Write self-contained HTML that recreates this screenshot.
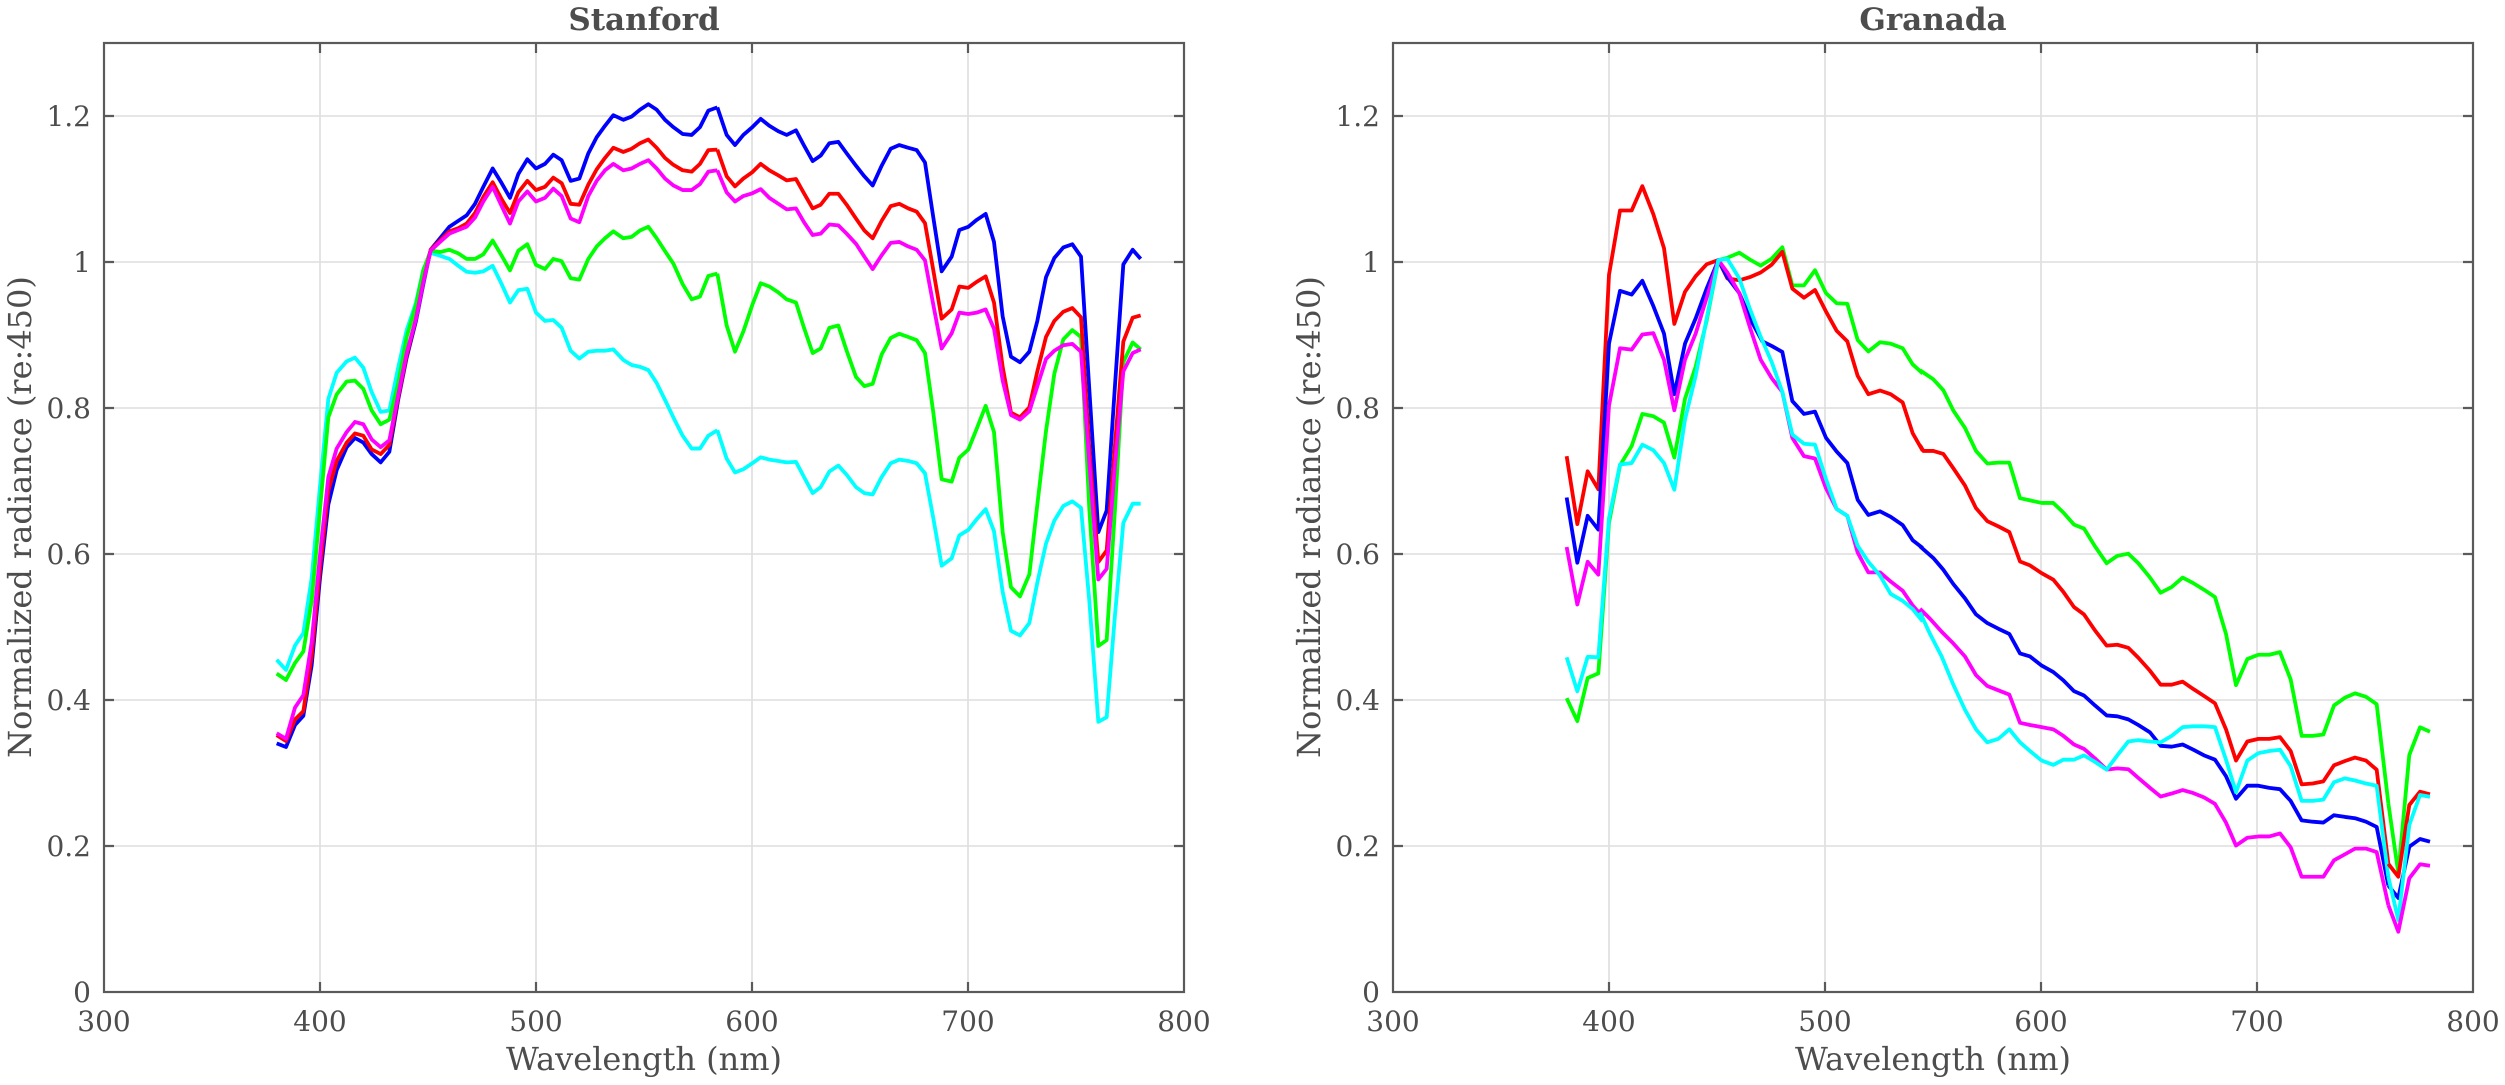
<!DOCTYPE html>
<html><head><meta charset="utf-8"><style>
html,body{margin:0;padding:0;background:#fff;}
svg{display:block;}
text{font-family:"DejaVu Serif","Liberation Serif",serif;fill:#4d4d4d;}
.t{font-size:28px;}
.ti{font-size:31px;font-weight:bold;}
.lb{font-size:32px;}
.g{stroke:#dedede;stroke-width:1.6;}
.ax{stroke:#5a5a5a;stroke-width:2.2;fill:none;}
polyline{fill:none;stroke-width:3.8;stroke-linejoin:round;vector-effect:non-scaling-stroke;}
.B{stroke:#0000ff}.R{stroke:#ff0000}.M{stroke:#ff00ff}.G{stroke:#00ff00}.C{stroke:#00ffff}
</style></head><body>
<svg width="2505" height="1085" viewBox="0 0 2505 1085" xmlns="http://www.w3.org/2000/svg">
<g class="g">
<line x1="320" y1="43" x2="320" y2="992"/><line x1="536" y1="43" x2="536" y2="992"/><line x1="752" y1="43" x2="752" y2="992"/><line x1="968" y1="43" x2="968" y2="992"/>
<line x1="104" y1="846" x2="1184" y2="846"/><line x1="104" y1="700" x2="1184" y2="700"/><line x1="104" y1="554" x2="1184" y2="554"/><line x1="104" y1="408" x2="1184" y2="408"/><line x1="104" y1="262" x2="1184" y2="262"/><line x1="104" y1="116" x2="1184" y2="116"/>
<line x1="1609" y1="43" x2="1609" y2="992"/><line x1="1825" y1="43" x2="1825" y2="992"/><line x1="2041" y1="43" x2="2041" y2="992"/><line x1="2257" y1="43" x2="2257" y2="992"/>
<line x1="1393" y1="846" x2="2473" y2="846"/><line x1="1393" y1="700" x2="2473" y2="700"/><line x1="1393" y1="554" x2="2473" y2="554"/><line x1="1393" y1="408" x2="2473" y2="408"/><line x1="1393" y1="262" x2="2473" y2="262"/><line x1="1393" y1="116" x2="2473" y2="116"/>
</g>

<g transform="translate(260,50) scale(0.33333,0.45918)">
<polyline class="C" points="50,1328 78,1350 105,1297 130,1270 155,1150 180,950 205,760 230,703 260,678 285,670 310,692 335,745 362,788 388,785 415,690 440,610 468,550 490,478 512,442 540,448 568,455 595,470 620,483 645,485 670,482 698,470 725,510 750,550 775,523 802,520 828,572 855,590 880,588 905,605 932,655 958,672 985,657 1010,655 1035,655 1060,652 1090,675 1115,686 1140,690 1165,697 1190,725 1215,762 1240,800 1268,840 1295,868 1320,868 1345,840 1372,828"/>
<polyline class="G" points="50,1358 78,1372 105,1335 130,1310 155,1200 180,1000 205,800 230,750 260,722 285,720 310,738 335,785 362,815 388,805 415,725 440,625 468,555 490,480 512,437 540,440 568,435 595,443 620,455 645,455 670,445 698,415 725,448 750,480 775,437 802,423 828,468 855,477 880,455 905,460 932,497 958,500 985,455 1010,428 1035,410 1060,395 1090,410 1115,407 1140,393 1165,385 1190,410 1215,438 1240,465 1268,510 1295,543 1320,537 1345,492 1372,487"/>
<polyline class="B" points="50,1510 78,1518 105,1470 130,1450 155,1340 180,1150 205,990 230,915 260,865 285,845 310,855 335,880 362,898 388,875 415,760 440,670 468,590 490,510 512,435 540,410 568,385 595,372 620,360 645,335 670,298 698,258 725,290 750,322 775,270 802,238 828,258 855,248 880,228 905,240 932,285 958,280 985,225 1010,190 1035,165 1060,142 1090,152 1115,145 1140,130 1165,118 1190,130 1215,152 1240,168 1268,183 1295,185 1320,168 1345,132 1372,125"/>
<polyline class="R" points="50,1492 78,1505 105,1458 130,1440 155,1320 180,1130 205,960 230,895 260,855 285,835 310,840 335,870 362,880 388,860 415,755 440,665 468,585 490,505 512,435 540,415 568,395 595,388 620,378 645,355 670,320 698,288 725,325 750,355 775,310 802,285 828,305 855,298 880,278 905,290 932,335 958,337 985,293 1010,260 1035,235 1060,213 1090,222 1115,215 1140,203 1165,195 1190,213 1215,235 1240,250 1268,262 1295,265 1320,248 1345,218 1372,217"/>
<polyline class="M" points="50,1488 78,1500 105,1432 130,1405 155,1290 180,1100 205,930 230,868 260,832 285,810 310,815 335,848 362,865 388,850 415,750 440,660 468,585 490,505 512,437 540,418 568,400 595,392 620,385 645,365 670,330 698,298 725,340 750,378 775,330 802,308 828,330 855,322 880,302 905,318 932,367 958,375 985,318 1010,285 1035,262 1060,248 1090,262 1115,258 1140,248 1165,240 1190,258 1215,280 1240,295 1268,305 1295,305 1320,292 1345,265 1372,262"/>
</g>
<g transform="translate(720,50) scale(0.33333,0.45918)">
<polyline class="C" points="-8,828 20,890 45,920 70,913 97,900 122,887 148,892 175,895 200,898 228,897 252,930 278,965 302,952 328,918 355,905 380,925 408,952 433,965 458,968 485,930 512,900 538,892 565,895 590,900 615,922 640,1020 665,1123 695,1107 718,1057 745,1045 770,1022 797,1000 822,1048 848,1180 873,1265 900,1275 928,1248 952,1160 978,1075 1003,1025 1030,993 1057,983 1083,997 1108,1200 1135,1463 1160,1453 1185,1230 1210,1030 1238,988 1262,988"/>
<polyline class="G" points="-8,487 20,600 45,657 70,613 97,555 122,508 148,515 175,528 200,543 228,550 252,605 278,660 302,650 328,605 355,600 380,655 408,712 433,732 458,727 485,663 512,627 538,618 565,625 590,632 615,660 640,790 665,935 695,940 718,888 745,870 770,825 797,775 822,832 848,1050 873,1170 900,1190 928,1142 952,990 978,830 1003,705 1030,630 1057,610 1083,625 1108,1000 1135,1298 1160,1285 1185,1000 1210,680 1238,637 1262,652"/>
<polyline class="B" points="-8,125 20,185 45,207 70,185 97,168 122,150 148,165 175,177 200,185 228,175 252,208 278,242 302,230 328,203 355,200 380,225 408,252 433,275 458,295 485,252 512,215 538,207 565,213 590,218 615,245 640,365 665,482 695,450 718,392 745,385 770,370 797,357 822,418 848,580 873,668 900,680 928,657 952,590 978,495 1003,453 1030,430 1057,423 1083,450 1108,740 1135,1050 1160,1003 1185,730 1210,467 1238,435 1262,455"/>
<polyline class="R" points="-8,217 20,275 45,297 70,280 97,266 122,248 148,262 175,273 200,284 228,281 252,312 278,345 302,337 328,313 355,313 380,337 408,367 433,393 458,410 485,372 512,340 538,335 565,345 590,352 615,377 640,480 665,585 695,565 718,515 745,518 770,505 797,493 822,550 848,690 873,790 900,800 928,778 952,700 978,625 1003,590 1030,570 1057,562 1083,582 1108,870 1135,1115 1160,1090 1185,860 1210,635 1238,583 1262,578"/>
<polyline class="M" points="-8,262 20,310 45,330 70,318 97,312 122,303 148,322 175,335 200,347 228,345 252,375 278,403 302,400 328,380 355,382 380,400 408,422 433,450 458,477 485,447 512,420 538,418 565,428 590,435 615,458 640,555 665,650 695,617 718,572 745,575 770,572 797,565 822,607 848,720 873,795 900,805 928,787 952,732 978,673 1003,655 1030,643 1057,640 1083,657 1108,900 1135,1153 1160,1130 1185,905 1210,700 1238,660 1262,652"/>
</g>

<g transform="translate(1490,160) scale(0.33333,0.45918)">
<polyline class="G" points="230,1172 262,1222 293,1128 325,1118 357,790 390,665 425,623 457,553 490,558 522,572 553,648 585,520 617,450 650,350 685,218 712,213 748,202 780,217 812,230 845,215 877,190 907,273 942,273 975,240 1008,290 1040,312 1072,313 1103,392 1135,417 1170,397 1202,400 1238,410 1268,445 1298,465"/>
<polyline class="R" points="230,645 262,793 293,678 325,717 357,250 390,110 425,110 457,57 490,118 522,192 553,357 585,287 617,253 650,227 685,218 712,258 748,262 780,255 812,245 845,228 877,200 907,280 942,300 975,283 1008,330 1040,372 1072,395 1103,470 1135,510 1170,502 1202,510 1238,528 1268,595 1298,633"/>
<polyline class="B" points="230,735 262,877 293,775 325,805 357,400 390,285 425,293 457,263 490,318 522,378 553,510 585,400 617,345 650,280 685,218 712,255 748,290 780,345 817,395 845,405 877,418 907,525 942,553 975,548 1008,605 1040,635 1072,660 1103,740 1135,773 1170,765 1202,777 1238,795 1268,828 1298,845"/>
<polyline class="M" points="230,843 262,968 293,875 325,903 357,535 390,410 425,413 457,380 490,377 522,435 553,545 585,435 617,378 650,300 685,218 712,245 748,290 780,365 812,435 845,475 877,505 907,605 942,645 975,650 1008,715 1040,760 1072,775 1103,855 1135,898 1170,898 1202,918 1238,938 1268,970 1298,995"/>
<polyline class="C" points="230,1083 262,1157 293,1082 325,1083 357,780 390,663 425,660 457,620 490,632 522,660 553,718 585,565 617,470 650,345 685,218 712,215 748,258 780,325 812,385 845,440 877,505 907,598 942,618 975,620 1008,695 1040,760 1072,775 1103,840 1135,875 1170,905 1202,945 1238,960 1268,978 1298,1005"/>
</g>
<g transform="translate(1920,300) scale(0.33333,0.43367)">
<polyline class="G" points="0,162 40,183 70,208 100,255 135,295 168,348 202,377 235,375 268,375 300,457 330,462 365,468 400,468 430,490 462,518 492,527 525,568 560,607 592,590 625,585 655,607 690,640 722,675 755,662 788,640 820,653 852,668 885,685 918,770 948,888 982,828 1015,818 1048,818 1080,812 1112,875 1145,1005 1178,1005 1210,1002 1242,935 1275,917 1305,907 1338,915 1370,932 1405,1160"/>
<polyline class="R" points="0,335 10,348 40,348 70,355 100,388 135,428 168,480 202,510 235,522 268,535 300,603 330,612 365,630 400,645 430,673 462,708 492,725 525,762 560,797 592,795 625,802 655,825 690,855 722,887 755,887 788,880 820,897 852,913 885,930 918,990 948,1062 982,1018 1015,1012 1048,1012 1080,1008 1112,1040 1145,1117 1178,1115 1210,1110 1242,1073 1275,1063 1305,1055 1338,1062 1370,1083 1405,1300"/>
<polyline class="B" points="0,568 40,595 70,622 100,655 135,688 168,725 202,745 235,758 268,770 300,815 330,822 365,843 400,858 430,877 462,902 492,912 525,935 560,958 592,960 625,967 655,980 690,997 722,1028 755,1030 788,1025 820,1037 852,1050 885,1060 918,1098 948,1150 982,1120 1015,1120 1048,1125 1080,1128 1112,1155 1145,1200 1178,1203 1210,1205 1242,1188 1275,1192 1305,1195 1338,1203 1370,1215 1405,1350"/>
<polyline class="M" points="0,712 30,735 65,765 100,792 135,822 168,865 202,890 235,900 268,910 300,975 330,980 365,985 400,990 430,1005 462,1025 492,1035 525,1057 560,1083 592,1080 625,1082 655,1102 690,1125 722,1145 755,1138 788,1130 820,1137 852,1147 885,1162 918,1205 948,1258 982,1240 1015,1237 1048,1237 1080,1230 1112,1262 1145,1330 1178,1330 1210,1330 1242,1292 1275,1278 1305,1265 1338,1265 1370,1273 1405,1395"/>
<polyline class="C" points="0,720 30,770 65,822 100,887 135,945 168,990 202,1020 235,1012 268,990 300,1020 330,1040 365,1062 400,1072 430,1060 462,1060 492,1050 525,1065 560,1083 592,1050 625,1018 655,1015 690,1018 722,1020 755,1005 788,985 820,983 852,983 885,985 918,1060 948,1135 982,1062 1015,1045 1048,1040 1080,1037 1112,1075 1145,1155 1178,1155 1210,1152 1242,1112 1275,1103 1305,1108 1338,1115 1370,1120 1405,1330"/>
</g>
<g>
<polyline class="G" points="2388.3,803.1 2398.3,873 2409.3,755 2420,727.3 2430,731.7"/>
<polyline class="R" points="2388.3,863.8 2398.3,876.7 2409.3,805 2420,791.7 2430,794.3"/>
<polyline class="B" points="2388.3,885.5 2398.3,898 2409.3,846.7 2420,839 2430,841.7"/>
<polyline class="C" points="2388.3,876.8 2398.3,920 2409.3,825 2420,795 2430,796.7"/>
<polyline class="M" points="2388.3,905 2398.3,931.7 2409.3,878.3 2420,864.3 2430,865.7"/>
</g>

<rect class="ax" x="104" y="43" width="1080" height="949"/>
<rect class="ax" x="1393" y="43" width="1080" height="949"/>
<g class="ax">
<path d="M320,992v-10M536,992v-10M752,992v-10M968,992v-10M320,43v10M536,43v10M752,43v10M968,43v10
M104,846h10M104,700h10M104,554h10M104,408h10M104,262h10M104,116h10M1184,846h-10M1184,700h-10M1184,554h-10M1184,408h-10M1184,262h-10M1184,116h-10"/>
<path d="M1609,992v-10M1825,992v-10M2041,992v-10M2257,992v-10M1609,43v10M1825,43v10M2041,43v10M2257,43v10
M1393,846h10M1393,700h10M1393,554h10M1393,408h10M1393,262h10M1393,116h10M2473,846h-10M2473,700h-10M2473,554h-10M2473,408h-10M2473,262h-10M2473,116h-10"/>
</g>

<g class="t" text-anchor="middle">
<text x="104" y="1031">300</text><text x="320" y="1031">400</text><text x="536" y="1031">500</text><text x="752" y="1031">600</text><text x="968" y="1031">700</text><text x="1184" y="1031">800</text>
<text x="1393" y="1031">300</text><text x="1609" y="1031">400</text><text x="1825" y="1031">500</text><text x="2041" y="1031">600</text><text x="2257" y="1031">700</text><text x="2473" y="1031">800</text>
</g>
<g class="t" text-anchor="end">
<text x="91" y="1002">0</text><text x="91" y="856">0.2</text><text x="91" y="710">0.4</text><text x="91" y="564">0.6</text><text x="91" y="418">0.8</text><text x="91" y="272">1</text><text x="91" y="126">1.2</text>
<text x="1380" y="1002">0</text><text x="1380" y="856">0.2</text><text x="1380" y="710">0.4</text><text x="1380" y="564">0.6</text><text x="1380" y="418">0.8</text><text x="1380" y="272">1</text><text x="1380" y="126">1.2</text>
</g>
<text class="ti" x="644" y="30" text-anchor="middle">Stanford</text>
<text class="ti" x="1933" y="30" text-anchor="middle">Granada</text>
<text class="lb" x="644" y="1070" text-anchor="middle">Wavelength (nm)</text>
<text class="lb" x="1933" y="1070" text-anchor="middle">Wavelength (nm)</text>
<text class="lb" transform="translate(31,517) rotate(-90)" text-anchor="middle">Normalized radiance (re:450)</text>
<text class="lb" transform="translate(1320,517) rotate(-90)" text-anchor="middle">Normalized radiance (re:450)</text>
</svg>
</body></html>
